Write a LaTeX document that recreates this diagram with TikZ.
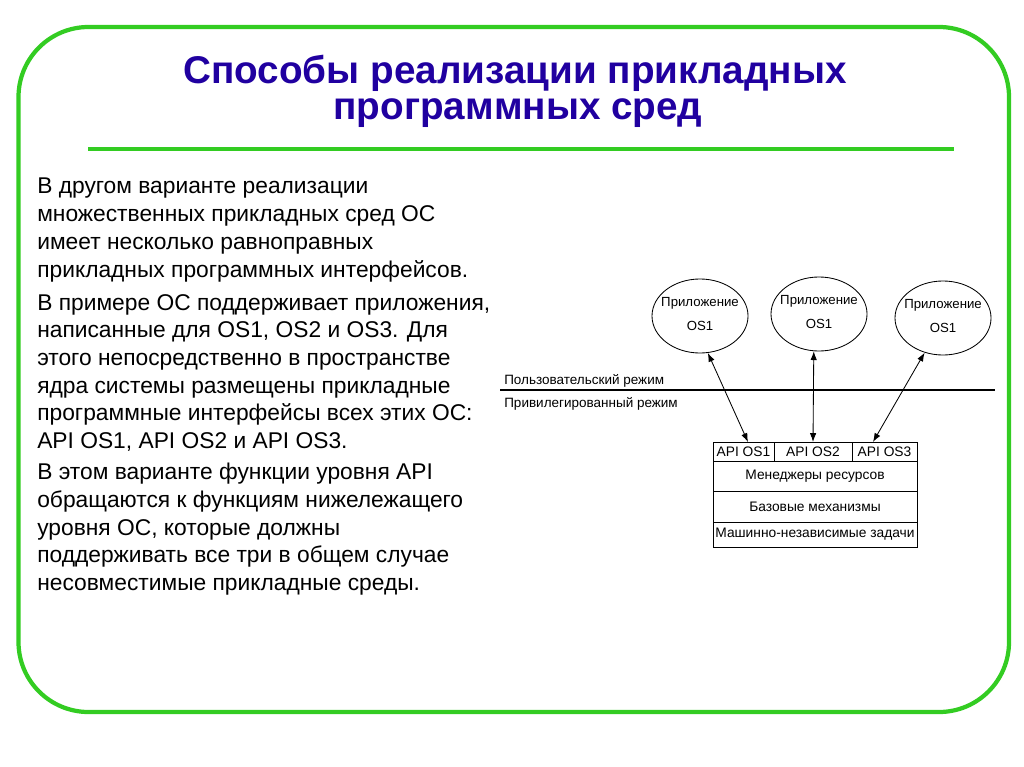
\documentclass[tikz,border=0pt]{standalone}
\usepackage{fontspec}
\setmainfont{Liberation Sans}
\usetikzlibrary{shapes.geometric, arrows.meta, positioning}

\definecolor{framegreen}{RGB}{51,204,34}
\definecolor{titleblue}{RGB}{32,0,160}

\begin{document}
\begin{tikzpicture}[
    x=0.025cm, y=-0.025cm,
    heading/.style={font=\fontsize{27.5}{30}\selectfont\bfseries, text=titleblue, inner sep=0pt},
    body/.style={anchor=north west, align=left, inner sep=0pt,
        font=\fontsize{16.2}{19.7}\selectfont},
    appcirc/.style={draw, ellipse, line width=0.6pt, minimum width=24mm,
        minimum height=18.5mm, inner sep=0pt},
    apptext/.style={align=center, inner sep=0pt, font=\fontsize{9.4}{16.4}\selectfont},
    modetext/.style={anchor=base west, inner sep=0pt, font=\fontsize{9.6}{11}\selectfont},
    cell/.style={draw, line width=0.6pt, inner sep=0pt, outer sep=0pt,
        font=\fontsize{9.8}{11}\selectfont},
    link/.style={{Latex[length=2.2mm,width=1.6mm]}-{Latex[length=2.2mm,width=1.6mm]}, line width=0.6pt}
]
\useasboundingbox (0,0) rectangle (1024,767);

% Slide frame and title
\draw[framegreen, line width=3pt, rounded corners=17.5mm] (18.5,27) rectangle (1009,712);
\node[heading] (title1) at (515,73) {Способы реализации прикладных};
\node[heading] (title2) at (518,113) {программных сред};
\draw[framegreen, line width=3.5pt] (88,149) -- (954,149);

% Body text
\node[body] (par1) at (37,178) {В другом варианте реализации\\
    множественных прикладных сред ОС\\
    имеет несколько равноправных\\
    прикладных программных интерфейсов.};
\node[body] (par2) at (37,294) {В примере ОС поддерживает приложения,\\
    написанные для OS1, OS2 и OS3. Для\\
    этого непосредственно в пространстве\\
    ядра системы размещены прикладные\\
    программные интерфейсы всех этих ОС:\\
    API OS1, API OS2 и API OS3.};
\node[body] (par3) at (37,463) {В этом варианте функции уровня API\\
    обращаются к функциям нижележащего\\
    уровня ОС, которые должны\\
    поддерживать все три в общем случае\\
    несовместимые прикладные среды.};

% Applications
\node[appcirc] (app1) at (700,316) {};
\node[appcirc] (app2) at (819,314) {};
\node[appcirc] (app3) at (943,318) {};
\node[apptext] (app1txt) at ([shift={(0,-2)}]app1) {Приложение\\OS1};
\node[apptext] (app2txt) at ([shift={(0,-2)}]app2) {Приложение\\OS1};
\node[apptext] (app3txt) at ([shift={(0,-2)}]app3) {Приложение\\OS1};

% User / kernel boundary
\coordinate (modeL) at (500,390);
\coordinate (modeR) at (995,390);
\draw[line width=1.3pt] (modeL) -- (modeR);
\node[modetext] (user) at (504,384) {Пользовательский режим};
\node[modetext] (priv) at (504,407) {Привилегированный режим};

% Kernel layers
\node[cell, minimum width=51mm, minimum height=7.5mm] (mgr) at (815,476) {Менеджеры ресурсов};
\node[cell, minimum width=51mm, minimum height=7.75mm, below=0pt of mgr] (base) {Базовые механизмы};
\node[cell, minimum width=51mm, minimum height=6.25mm, below=0pt of base] (mach) {Машинно-независимые задачи};
\node[cell, minimum width=15.25mm, minimum height=4.75mm, anchor=south west] (api1) at (mgr.north west) {API OS1};
\node[cell, minimum width=19.5mm, minimum height=4.75mm, right=0pt of api1] (api2) {API OS2};
\node[cell, minimum width=16.25mm, minimum height=4.75mm, right=0pt of api2] (api3) {API OS3};

% Calls between applications and their API
\draw[link] (app1.-78) -- ([shift={(4.5,0)}]api1.north);
\draw[link] (app2.-98) -- (api2.north);
\draw[link] (app3.-118) -- ([shift={(-11.5,0)}]api3.north);
\end{tikzpicture}
\end{document}
